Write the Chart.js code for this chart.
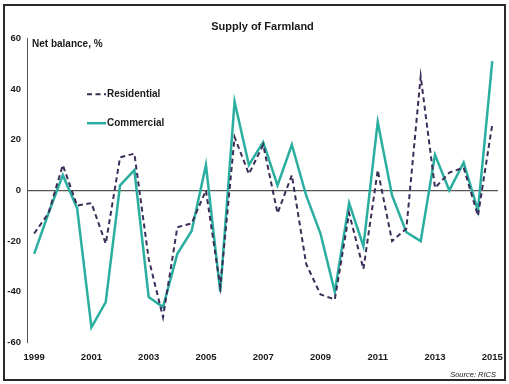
<!DOCTYPE html>
<html>
<head>
<meta charset="utf-8">
<script src="https://cdn.jsdelivr.net/npm/chart.js@4.4.0/dist/chart.umd.min.js"></script>
<style>
    html, body { margin: 0; padding: 0; background: #fff; }
    #wrap { width: 509px; height: 384px; position: relative; }
</style>
</head>
<body>
<div id="wrap"><canvas id="farmlandChart"></canvas></div>
<script>
// half-yearly survey periods
const periods = [1999, 1999.5, 2000, 2000.5, 2001, 2001.5, 2002, 2002.5, 2003, 2003.5,
    2004, 2004.5, 2005, 2005.5, 2006, 2006.5, 2007, 2007.5, 2008, 2008.5,
    2009, 2009.5, 2010, 2010.5, 2011, 2011.5, 2012, 2012.5, 2013, 2013.5,
    2014, 2014.5, 2015];
const residential = [-17, -9, 10, -6, -5, -21, 13, 14.5, -27, -50,
    -14.5, -13, 0, -38, 21, 6.5, 18, -9, 6, -29,
    -41, -43, -9, -31, 8, -20, -15, 45, 1, 7,
    9, -10, 26];
const commercial = [-25, -9, 6, -7, -54, -44, 2, 8, -42, -46,
    -25, -16, 10, -40, 35, 10, 19, 2, 18, -2,
    -17, -40, -5, -22, 27, -2, -16.5, -20, 14, 0,
    11, -8, 51];
const yearTicks = [1999, 2001, 2003, 2005, 2007, 2009, 2011, 2013, 2015];
const valueTicks = [-60, -40, -20, 0, 20, 40, 60];

const FONT = "'Liberation Sans', Arial, sans-serif";
const INK = "#1a1a1a";

function toPoints(values) {
    return values.map((v, i) => ({ x: periods[i], y: v }));
}

// frame, axis note, source and the legend inside the plot
const decorations = {
    id: "decorations",
    afterDraw(chart) {
        const ctx = chart.ctx;
        const area = chart.chartArea;
        ctx.save();
        ctx.strokeStyle = "#2a2a2a";
        ctx.lineWidth = 2;
        ctx.strokeRect(4, 5, 501, 375);

        ctx.fillStyle = INK;
        ctx.font = "bold 10px " + FONT;
        ctx.textBaseline = "middle";
        ctx.textAlign = "left";
        ctx.fillText("Net balance, %", area.left + 5, area.top + 6);

        chart.data.datasets.forEach((ds, i) => {
            const y = area.top + 56 + i * 29;
            const x0 = area.left + 60;
            ctx.beginPath();
            ctx.strokeStyle = ds.borderColor;
            ctx.lineWidth = ds.borderWidth;
            ctx.setLineDash(ds.borderDash || []);
            ctx.moveTo(x0, y);
            ctx.lineTo(x0 + 19, y);
            ctx.stroke();
            ctx.setLineDash([]);
            ctx.fillStyle = INK;
            ctx.fillText(ds.label, x0 + 20, y);
        });

        ctx.font = "italic 7.5px " + FONT;
        ctx.textAlign = "right";
        ctx.fillText("Source: RICS", 496, 375);
        ctx.restore();
    }
};

new Chart("farmlandChart", {
    type: "line",
    data: {
        datasets: [
            {
                label: "Residential",
                data: toPoints(residential),
                borderColor: "#3b2d57",
                borderWidth: 2,
                borderDash: [5, 3.5],
                pointRadius: 0,
                tension: 0
            },
            {
                label: "Commercial",
                data: toPoints(commercial),
                borderColor: "#2aaea0",
                borderWidth: 2.5,
                pointRadius: 0,
                tension: 0
            }
        ]
    },
    options: {
        responsive: true,
        maintainAspectRatio: false,
        animation: false,
        layout: { padding: { top: 7, left: 4, right: 11, bottom: 12 } },
        scales: {
            x: {
                type: "linear",
                min: 1998.75,
                max: 2015.2,
                afterBuildTicks: (scale) => {
                    scale.ticks = yearTicks.map(v => ({ value: v }));
                },
                afterFit: (scale) => {
                    scale.paddingLeft = 0;
                    scale.paddingRight = 0;
                },
                grid: { display: false, drawTicks: false },
                border: { display: false },
                ticks: {
                    padding: 9,
                    maxRotation: 0,
                    autoSkip: false,
                    color: INK,
                    font: { family: FONT, size: 9.5, weight: "bold" },
                    callback: (v) => String(v)
                }
            },
            y: {
                min: -60,
                max: 60,
                afterBuildTicks: (scale) => {
                    scale.ticks = valueTicks.map(v => ({ value: v }));
                },
                afterFit: (scale) => { scale.width = 23; },
                grid: {
                    drawTicks: false,
                    color: (c) => (c.tick && c.tick.value === 0) ? "#555" : "transparent",
                    lineWidth: 1.2
                },
                border: { display: true, color: "#555", width: 1 },
                ticks: {
                    padding: 6,
                    color: INK,
                    font: { family: FONT, size: 9.5, weight: "bold" }
                }
            }
        },
        plugins: {
            legend: { display: false },
            tooltip: { enabled: false },
            title: {
                display: true,
                fullSize: false,
                text: "Supply of Farmland",
                color: INK,
                font: { family: FONT, size: 11, weight: "bold" },
                padding: { top: 13, bottom: 5 }
            }
        }
    },
    plugins: [decorations]
});
</script>
</body>
</html>
